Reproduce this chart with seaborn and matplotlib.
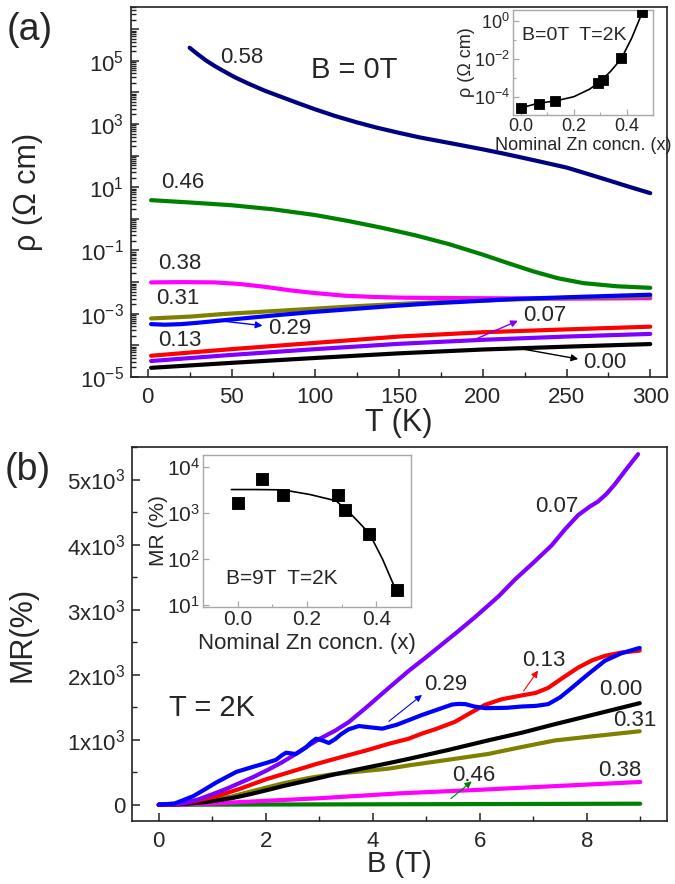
import numpy as np
import matplotlib
matplotlib.use("Agg")
import matplotlib.pyplot as plt
import matplotlib.ticker as mticker
import seaborn as sns

# ---- panel (a): resistivity vs temperature, B = 0T ----
T_000 = [2, 50, 100, 150, 200, 250, 300]
rho_000 = [1.95e-5, 2.8e-5, 4.0e-5, 5.6e-5, 7.4e-5, 9.1e-5, 1.1e-4]
T_007 = [2, 50, 100, 150, 200, 250, 300]
rho_007 = [3.2e-5, 5.0e-5, 7.6e-5, 1.12e-4, 1.5e-4, 1.9e-4, 2.3e-4]
T_013 = [2, 50, 100, 150, 200, 250, 300]
rho_013 = [4.7e-5, 7.6e-5, 1.2e-4, 1.9e-4, 2.6e-4, 3.2e-4, 3.9e-4]
T_029 = [2, 10, 20, 30, 45, 60, 80, 100, 120, 145, 168, 195, 220, 260, 300]
rho_029 = [4.7e-4, 4.5e-4, 4.7e-4, 5.2e-4, 6.2e-4, 7.4e-4, 9.3e-4, 1.15e-3, 1.38e-3, 1.74e-3, 2.1e-3,
           2.5e-3, 2.95e-3, 3.45e-3, 4.0e-3]
T_031 = [2, 25, 45, 70, 100, 125, 150, 175, 200, 250, 300]
rho_031 = [7.1e-4, 8.1e-4, 9.8e-4, 1.17e-3, 1.45e-3, 1.74e-3, 2.04e-3, 2.34e-3, 2.63e-3, 3.16e-3, 3.55e-3]
T_038 = [2, 20, 40, 55, 70, 85, 100, 118, 135, 150, 168, 200, 250, 300]
rho_038 = [9.8e-3, 1.0e-2, 9.8e-3, 8.7e-3, 7.1e-3, 5.5e-3, 4.5e-3, 3.7e-3, 3.4e-3, 3.24e-3, 3.16e-3,
           3.1e-3, 3.0e-3, 3.1e-3]
T_046 = [2, 25, 50, 75, 100, 120, 140, 160, 180, 200, 215, 230, 245, 260, 280, 300]
rho_046 = [3.9, 3.3, 2.7, 2.0, 1.32, 0.85, 0.52, 0.30, 0.158, 0.074, 0.040, 0.022, 0.0132, 9.3e-3,
           7.4e-3, 6.6e-3]
T_058 = [25, 30, 35, 40, 45, 52, 60, 70, 80, 90, 100, 112, 125, 137, 150, 162, 175, 187, 200, 212,
         225, 237, 250, 262, 275, 287, 300]
rho_058 = [2.57e5, 1.58e5, 1.0e5, 6.8e4, 4.8e4, 3.0e4, 1.9e4, 1.12e4, 7.1e3, 4.5e3, 2.9e3, 1.78e3,
           1.12e3, 760, 525, 380, 282, 214, 158, 117, 83, 60, 42, 27, 16.6, 10.5, 6.5]

# inset (a)
x_conc = [0.0, 0.07, 0.13, 0.29, 0.31, 0.38, 0.46]
rho_2K = [2.6e-5, 4.3e-5, 6.0e-5, 5.4e-4, 8.0e-4, 1.1e-2, 2.8]
x_fit_a = [0.0, 0.05, 0.10, 0.13, 0.20, 0.26, 0.30, 0.34, 0.38, 0.42, 0.46]
rho_fit_a = [2.6e-5, 4.0e-5, 5.3e-5, 6.0e-5, 1.0e-4, 2.5e-4, 6.3e-4, 2.2e-3, 1.0e-2, 0.126, 2.8]

# ---- panel (b): magnetoresistance vs field, T = 2K ----
B_007 = [0, 0.25, 0.5, 0.75, 1.0, 1.25, 1.5, 1.75, 2.0, 2.3, 2.56, 2.8, 3.0, 3.3, 3.56, 3.9, 4.3, 4.67,
         5.0, 5.3, 5.6, 5.92, 6.35, 6.66, 7.0, 7.34, 7.6, 7.84, 8.05, 8.21, 8.37, 8.52, 8.75, 8.96]
MR_007 = [0, 5, 30, 85, 160, 240, 330, 420, 520, 650, 780, 910, 1010, 1140, 1276, 1510, 1797, 2057,
          2270, 2470, 2670, 2890, 3203, 3464, 3720, 3984, 4240, 4453, 4580, 4661, 4780, 4922, 5170, 5390]
B_029 = [0, 0.3, 0.64, 0.85, 1.07, 1.45, 1.75, 2.0, 2.19, 2.3, 2.38, 2.47, 2.56, 2.75, 2.85, 2.94, 3.05,
         3.18, 3.3, 3.4, 3.55, 3.74, 3.95, 4.18, 4.45, 4.67, 4.92, 5.2, 5.48, 5.6, 5.73, 5.9, 6.1, 6.5,
         6.78, 7.05, 7.28, 7.5, 7.72, 8.0, 8.34, 8.65, 8.99]
MR_029 = [0, 20, 130, 230, 340, 505, 580, 640, 690, 760, 800, 790, 780, 880, 960, 1015, 990,
          950, 1010, 1080, 1160, 1210, 1190, 1170, 1230, 1300, 1380, 1460, 1540, 1550, 1547, 1510, 1485, 1490,
          1510, 1520, 1547, 1650, 1797, 1990, 2214, 2330, 2411]
B_013 = [0, 0.25, 0.5, 0.75, 1.07, 1.5, 2.0, 2.5, 2.94, 3.4, 3.87, 4.3, 4.67, 4.92, 5.2, 5.54, 5.8, 6.1,
         6.4, 6.78, 7.05, 7.28, 7.55, 7.84, 8.1, 8.34, 8.65, 8.99]
MR_013 = [0, 5, 30, 70, 130, 240, 390, 515, 625, 730, 833, 937, 1015, 1094, 1170, 1276, 1400, 1536,
          1620, 1680, 1720, 1797, 1950, 2109, 2220, 2289, 2340, 2370]
B_000 = [0, 0.25, 0.5, 0.75, 1.0, 1.38, 1.7, 2.0, 2.32, 2.8, 3.25, 3.7, 4.3, 4.67, 5.4, 6.16, 6.8, 7.41,
         8.2, 8.99]
MR_000 = [0, 3, 15, 30, 55, 104, 160, 220, 286, 375, 460, 540, 640, 705, 840, 990, 1110, 1240, 1400, 1562]
B_031 = [0, 0.25, 0.5, 0.75, 1.0, 1.38, 1.8, 2.32, 2.8, 3.25, 3.8, 4.3, 4.67, 5.4, 6.16, 6.8, 7.41, 8.2, 8.99]
MR_031 = [0, 5, 25, 50, 80, 130, 220, 328, 410, 470, 515, 555, 605, 690, 781, 890, 989, 1060, 1130]
B_038 = [0, 0.5, 1.0, 2.0, 3.0, 4.5, 6.0, 7.5, 9.0]
MR_038 = [0, 5, 20, 60, 100, 175, 230, 290, 350]
B_046 = [0, 3.0, 6.0, 9.0]
MR_046 = [0, 5, 10, 16]

# inset (b)
MR_9T = [1600, 5500, 2400, 2450, 1150, 350, 21]
x_fit_b = [-0.018, 0.05, 0.13, 0.207, 0.284, 0.331, 0.38, 0.418, 0.452, 0.458]
MR_fit_b = [3200, 3200, 3150, 2510, 1820, 870, 355, 98, 25, 19]

colors = {'0.00': 'black', '0.07': '#8000ff', '0.13': '#ff0000', '0.29': '#0000ff',
          '0.31': '#808000', '0.38': '#ff00ff', '0.46': '#008000', '0.58': '#000080'}

sns.set_style("ticks")
plt.rcParams['font.family'] = ['Liberation Sans', 'DejaVu Sans']
plt.rcParams['mathtext.fontset'] = 'custom'
plt.rcParams['mathtext.rm'] = 'Liberation Sans'
plt.rcParams['mathtext.it'] = 'Liberation Sans:italic'

W, H = 675, 884
fig = plt.figure(figsize=(6.75, 8.84), dpi=100)


def box(l, t, r, b):
    return [l / W, 1 - b / H, (r - l) / W, (b - t) / H]


ax_a = fig.add_axes(box(131, 7, 667, 377))
ax_b = fig.add_axes(box(132, 447, 667, 821))
ins_a = fig.add_axes(box(513, 10, 653, 115))
ins_b = fig.add_axes(box(203, 455, 411, 607))

lw = 3


def arrow(ax, head, tail, color, lw=1.0):
    ax.annotate('', xy=head, xytext=tail,
                arrowprops=dict(arrowstyle='-|>', color=color, lw=lw, mutation_scale=10,
                                shrinkA=0, shrinkB=0))


# panel (a) curves
curves_a = [('0.58', T_058, rho_058), ('0.46', T_046, rho_046), ('0.38', T_038, rho_038),
            ('0.31', T_031, rho_031), ('0.29', T_029, rho_029), ('0.13', T_013, rho_013),
            ('0.07', T_007, rho_007), ('0.00', T_000, rho_000)]
for name, xs, ys in curves_a:
    sns.lineplot(x=xs, y=ys, ax=ax_a, color=colors[name], lw=lw, sort=False,
                 solid_capstyle='round', solid_joinstyle='round')
ax_a.set_yscale('log')
ax_a.set_xlim(-10, 310)
ax_a.set_ylim(1e-5, 5e6)
ax_a.xaxis.set_major_locator(mticker.MultipleLocator(50))
ax_a.xaxis.set_minor_locator(mticker.MultipleLocator(25))
decades = [1e-5, 1e-4, 1e-3, 1e-2, 1e-1, 1e0, 1e1, 1e2, 1e3, 1e4, 1e5, 1e6]
decade_labels = ['$10^{-5}$', '', '$10^{-3}$', '', '$10^{-1}$', '', '$10^{1}$', '', '$10^{3}$', '',
                 '$10^{5}$', '']
ax_a.yaxis.set_major_locator(mticker.FixedLocator(decades))
ax_a.yaxis.set_major_formatter(mticker.FixedFormatter(decade_labels))
ax_a.yaxis.set_minor_locator(mticker.LogLocator(base=10, subs=np.arange(2, 10), numticks=30))
ax_a.yaxis.set_minor_formatter(mticker.NullFormatter())
ax_a.set_xlabel('T (K)', fontsize=22)
ax_a.set_ylabel('ρ (Ω cm)', fontsize=22)
ax_a.xaxis.set_label_coords(0.5, -0.085)
ax_a.yaxis.set_label_coords(-0.164, 0.5)

lab_kw = dict(fontsize=16, ha='center', va='center')
ax_a.text(56, 1.26e5, '0.58', **lab_kw)
ax_a.text(123, 5.1e4, 'B = 0T', fontsize=21, ha='center', va='center')
ax_a.text(21, 14.5, '0.46', **lab_kw)
ax_a.text(19, 0.039, '0.38', **lab_kw)
ax_a.text(18, 3.0e-3, '0.31', **lab_kw)
ax_a.text(19, 1.38e-4, '0.13', **lab_kw)
ax_a.text(85, 3.3e-4, '0.29', **lab_kw)
arrow(ax_a, (68.5, 4.2e-4), (43, 6.0e-4), colors['0.29'])
ax_a.text(237, 8.7e-4, '0.07', **lab_kw)
arrow(ax_a, (221, 6.0e-4), (196, 1.6e-4), colors['0.07'])
ax_a.text(273, 2.8e-5, '0.00', **lab_kw)
arrow(ax_a, (257, 3.7e-5), (223, 7.8e-5), 'black')

# panel (b) curves
curves_b = [('0.46', B_046, MR_046), ('0.38', B_038, MR_038), ('0.31', B_031, MR_031),
            ('0.00', B_000, MR_000), ('0.13', B_013, MR_013), ('0.07', B_007, MR_007),
            ('0.29', B_029, MR_029)]
for name, xs, ys in curves_b:
    sns.lineplot(x=xs, y=ys, ax=ax_b, color=colors[name], lw=lw, sort=False,
                 solid_capstyle='round', solid_joinstyle='round')
ax_b.set_xlim(-0.5, 9.5)
ax_b.set_ylim(-250, 5500)
ax_b.xaxis.set_major_locator(mticker.MultipleLocator(2))
ax_b.xaxis.set_minor_locator(mticker.MultipleLocator(1))
ax_b.yaxis.set_major_locator(mticker.FixedLocator([0, 1000, 2000, 3000, 4000, 5000]))
ax_b.yaxis.set_major_formatter(mticker.FixedFormatter(
    ['0', '1x10$^{3}$', '2x10$^{3}$', '3x10$^{3}$', '4x10$^{3}$', '5x10$^{3}$']))
ax_b.yaxis.set_minor_locator(mticker.MultipleLocator(500))
ax_b.set_xlabel('B (T)', fontsize=21)
ax_b.set_ylabel('MR(%)', fontsize=22)
ax_b.xaxis.set_label_coords(0.5, -0.078)
ax_b.yaxis.set_label_coords(-0.176, 0.5)

ax_b.text(0.99, 1484, 'T = 2K', fontsize=21, ha='center', va='center')
ax_b.text(7.43, 4578, '0.07', **lab_kw)
ax_b.text(5.36, 1844, '0.29', **lab_kw)
arrow(ax_b, (4.92, 1688), (4.30, 1281), colors['0.29'], 0.8)
ax_b.text(7.19, 2219, '0.13', **lab_kw)
arrow(ax_b, (7.09, 2063), (6.82, 1750), colors['0.13'], 0.8)
ax_b.text(8.64, 1766, '0.00', **lab_kw)
ax_b.text(8.90, 1297, '0.31', **lab_kw)
ax_b.text(8.62, 531, '0.38', **lab_kw)
ax_b.text(5.88, 453, '0.46', **lab_kw)
arrow(ax_b, (5.85, 359), (5.46, 94), colors['0.46'], 0.8)

for ax in (ax_a, ax_b):
    for s in ax.spines.values():
        s.set_linewidth(1.2)
        s.set_color('#222222')
    ax.tick_params(which='both', direction='in', top=False, right=False, labelsize=16, color='#222222')
    ax.tick_params(which='major', length=6, width=1.1)
    ax.tick_params(which='minor', length=3.5, width=1.0)
    ax.tick_params(axis='x', pad=7)
    ax.tick_params(axis='y', pad=5)

# inset (a)
sns.lineplot(x=x_fit_a, y=rho_fit_a, ax=ins_a, color='black', lw=1.2, sort=False)
sns.scatterplot(x=x_conc, y=rho_2K, ax=ins_a, marker='s', s=55, color='black', edgecolor='black', zorder=3)
ins_a.set_yscale('log')
ins_a.set_xlim(-0.03, 0.5)
ins_a.set_ylim(1.1e-5, 3.6)
ins_a.xaxis.set_major_locator(mticker.FixedLocator([0.0, 0.2, 0.4]))
ins_a.xaxis.set_major_formatter(mticker.FixedFormatter(['0.0', '0.2', '0.4']))
ins_a.xaxis.set_minor_locator(mticker.FixedLocator([0.1, 0.3]))
ins_a.yaxis.set_major_locator(mticker.FixedLocator([1e-4, 1e-2, 1e0]))
ins_a.yaxis.set_major_formatter(mticker.FixedFormatter(['$10^{-4}$', '$10^{-2}$', '$10^{0}$']))
ins_a.yaxis.set_minor_locator(mticker.FixedLocator([1e-5, 1e-3, 1e-1]))
ins_a.yaxis.set_minor_formatter(mticker.NullFormatter())
ins_a.set_xlabel('Nominal Zn concn. (x)', fontsize=13)
ins_a.set_ylabel('ρ (Ω cm)', fontsize=13)
ins_a.xaxis.set_label_coords(0.5, -0.21)
ins_a.yaxis.set_label_coords(-0.27, 0.5)
ins_a.text(0.44, 0.76, 'B=0T  T=2K', transform=ins_a.transAxes, fontsize=14, ha='center', va='center')
ins_a.tick_params(labelsize=13)

# inset (b)
sns.lineplot(x=x_fit_b, y=MR_fit_b, ax=ins_b, color='black', lw=1.2, sort=False)
sns.scatterplot(x=x_conc, y=MR_9T, ax=ins_b, marker='s', s=65, color='black', edgecolor='black', zorder=3)
ins_b.set_yscale('log')
ins_b.set_xlim(-0.1, 0.5)
ins_b.set_ylim(9, 1.8e4)
ins_b.xaxis.set_major_locator(mticker.FixedLocator([0.0, 0.2, 0.4]))
ins_b.xaxis.set_major_formatter(mticker.FixedFormatter(['0.0', '0.2', '0.4']))
ins_b.xaxis.set_minor_locator(mticker.FixedLocator([0.1, 0.3]))
ins_b.yaxis.set_major_locator(mticker.FixedLocator([1e1, 1e2, 1e3, 1e4]))
ins_b.yaxis.set_major_formatter(mticker.FixedFormatter(['$10^{1}$', '$10^{2}$', '$10^{3}$', '$10^{4}$']))
ins_b.yaxis.set_minor_locator(mticker.NullLocator())
ins_b.set_xlabel('Nominal Zn concn. (x)', fontsize=16)
ins_b.set_ylabel('MR (%)', fontsize=15)
ins_b.xaxis.set_label_coords(0.5, -0.17)
ins_b.yaxis.set_label_coords(-0.17, 0.5)
ins_b.text(0.378, 0.19, 'B=9T  T=2K', transform=ins_b.transAxes, fontsize=15, ha='center', va='center')
ins_b.tick_params(labelsize=15)

for ax in (ins_a, ins_b):
    for s in ax.spines.values():
        s.set_linewidth(1.0)
        s.set_color('#a8a8a8')
    ax.tick_params(which='both', direction='in', top=False, right=False, color='#a8a8a8', pad=2)
    ax.tick_params(which='major', length=4, width=0.9)
    ax.tick_params(which='minor', length=2.5, width=0.8)
    ax.set_facecolor('white')

fig.text(30 / W, 1 - 30 / H, '(a)', fontsize=27, ha='center', va='center')
fig.text(28 / W, 1 - 470 / H, '(b)', fontsize=27, ha='center', va='center')

fig.savefig('out.png', dpi=100, facecolor='white')
